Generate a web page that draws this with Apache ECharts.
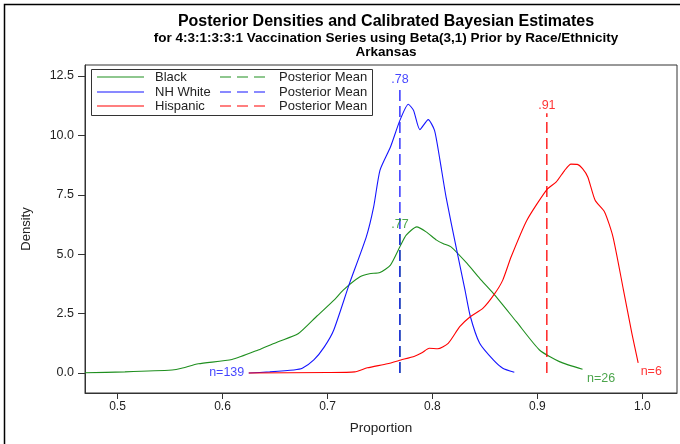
<!DOCTYPE html>
<html>
<head>
<meta charset="utf-8">
<title>Posterior Densities</title>
<script src="https://cdn.jsdelivr.net/npm/echarts@6/dist/echarts.min.js"></script>
<style>
  body { margin: 0; background: #fff; }
  #chart { width: 680px; height: 444px; }
</style>
</head>
<body>
<div id="chart"></div>
<script>
// density curves
var blackX = [0.469, 0.507, 0.552, 0.561, 0.577, 0.609, 0.634, 0.653, 0.672, 0.690, 0.707, 0.715, 0.731, 0.740, 0.750, 0.760, 0.769, 0.775, 0.785, 0.794, 0.804, 0.810, 0.818, 0.833, 0.845, 0.858, 0.880, 0.902, 0.921, 0.943]
var blackY = [0.01, 0.05, 0.13, 0.20, 0.39, 0.57, 0.97, 1.32, 1.65, 2.40, 3.10, 3.49, 4.05, 4.18, 4.23, 4.54, 5.31, 5.80, 6.15, 5.94, 5.59, 5.45, 5.30, 4.61, 3.98, 3.35, 2.16, 0.97, 0.48, 0.16]

var whiteX = [0.625, 0.645, 0.668, 0.676, 0.687, 0.697, 0.706, 0.721, 0.737, 0.744, 0.750, 0.760, 0.769, 0.777, 0.782, 0.788, 0.796, 0.802, 0.807, 0.813, 0.823, 0.831, 0.836, 0.845, 0.858, 0.867, 0.878]
var whiteY = [0.00, 0.05, 0.13, 0.20, 0.55, 1.10, 1.81, 3.77, 5.73, 6.99, 8.53, 9.51, 10.63, 11.31, 11.05, 10.24, 10.66, 10.21, 9.00, 7.40, 5.20, 3.50, 2.40, 1.25, 0.55, 0.20, 0.03]

var hispX = [0.625, 0.700, 0.726, 0.738, 0.757, 0.770, 0.783, 0.790, 0.797, 0.805, 0.815, 0.826, 0.836, 0.848, 0.859, 0.867, 0.875, 0.890, 0.909, 0.918, 0.926, 0.932, 0.938, 0.943, 0.948, 0.955, 0.964, 0.972, 0.982, 0.990, 0.996]
var hispY = [0.00, 0.02, 0.05, 0.22, 0.39, 0.55, 0.71, 0.85, 1.04, 1.02, 1.25, 1.95, 2.37, 2.72, 3.32, 3.91, 4.89, 6.43, 7.72, 8.04, 8.53, 8.79, 8.78, 8.60, 8.25, 7.27, 6.78, 5.73, 3.49, 1.67, 0.43]

// posterior means: Black, NH White, Hispanic
var groups = ['Black', 'NH White', 'Hispanic']
var colors = ['#1f8f1f', '#1414ff', '#ff0000']
var meanX = [0.769, 0.769, 0.909]
var meanTop = [5.93, 12.03, 10.93]
var meanText = ['.77', '.78', '.91']
var nText = ['n=26', 'n=139', 'n=6']

var xTicks = [0.5, 0.6, 0.7, 0.8, 0.9, 1.0]
var yTicks = [0, 2.5, 5, 7.5, 10, 12.5]

function pairs (xs, ys) {
  var out = []
  for (var i = 0; i < xs.length; i++) out.push([xs[i], ys[i]])
  return out
}

var font = 'Liberation Sans, Arial, sans-serif'
var curves = [pairs(blackX, blackY), pairs(whiteX, whiteY), pairs(hispX, hispY)]

var series = []
for (var i = 0; i < 3; i++) {
  series.push({
    name: groups[i],
    type: 'line',
    data: curves[i],
    symbol: 'none',
    smooth: 0.2,
    lineStyle: { color: colors[i], width: 1.1 },
    z: 2
  })
}
for (var j = 0; j < 3; j++) {
  series.push({
    type: 'line',
    data: [[meanX[j], 0], [meanX[j], meanTop[j]]],
    symbol: 'none',
    lineStyle: { color: colors[j], width: 1.3, type: [11, 5] },
    z: 3
  })
}

// labels for means and sample sizes
var labelPts = []
for (var k = 0; k < 3; k++) {
  labelPts.push({
    value: [meanX[k], meanTop[k]],
    label: { show: true, formatter: meanText[k], position: 'top', distance: 1, color: colors[k] }
  })
}
var ends = [curves[0][curves[0].length - 1], curves[1][0], curves[2][curves[2].length - 1]]
labelPts.push({ value: ends[0], label: { show: true, formatter: nText[0], position: 'right', distance: 4, offset: [0, 9], color: colors[0] } })
labelPts.push({ value: ends[1], label: { show: true, formatter: nText[1], position: 'left', distance: 4, color: colors[1] } })
labelPts.push({ value: ends[2], label: { show: true, formatter: nText[2], position: 'right', distance: 2, offset: [0, 9], color: colors[2] } })
series.push({
  type: 'scatter',
  data: labelPts,
  symbolSize: 1,
  itemStyle: { color: 'rgba(0,0,0,0)' },
  label: { fontFamily: font, fontSize: 12.5 },
  z: 4
})

// legend drawn by hand: two columns
var legend = [{
  type: 'rect',
  shape: { x: 91.5, y: 69.5, width: 281, height: 46 },
  style: { fill: '#fff', stroke: '#333', lineWidth: 1 },
  z: 10
}]
var rowY = [77, 92, 106]
for (var r = 0; r < 3; r++) {
  legend.push({ type: 'line', shape: { x1: 97, y1: rowY[r], x2: 144, y2: rowY[r] }, style: { stroke: colors[r], lineWidth: 1.2 }, z: 11 })
  legend.push({ type: 'text', x: 155, y: rowY[r], style: { text: groups[r], font: '13px ' + font, fill: '#222', verticalAlign: 'middle' }, z: 11 })
  legend.push({ type: 'line', shape: { x1: 220, y1: rowY[r], x2: 266, y2: rowY[r] }, style: { stroke: colors[r], lineWidth: 1.2, lineDash: [11, 6] }, z: 11 })
  legend.push({ type: 'text', x: 279, y: rowY[r], style: { text: 'Posterior Mean', font: '13px ' + font, fill: '#222', verticalAlign: 'middle' }, z: 11 })
}
legend.push({
  type: 'rect',
  shape: { x: 4.5, y: 4.5, width: 700, height: 500 },
  style: { fill: 'none', stroke: '#000', lineWidth: 1.5 },
  z: 12
})

var myChart = echarts.init(document.getElementById('chart'))
var option = {
  animation: false,
  title: [
    { text: 'Posterior Densities and Calibrated Bayesian Estimates', left: 381, top: 9, textAlign: 'center',
      textStyle: { fontFamily: font, fontSize: 16, fontWeight: 'bold', color: '#000' } },
    { text: 'for 4:3:1:3:3:1 Vaccination Series using Beta(3,1) Prior by Race/Ethnicity', left: 381, top: 26, textAlign: 'center',
      textStyle: { fontFamily: font, fontSize: 13.5, fontWeight: 'bold', color: '#000' } },
    { text: 'Arkansas', left: 381, top: 40, textAlign: 'center',
      textStyle: { fontFamily: font, fontSize: 13.5, fontWeight: 'bold', color: '#000' } }
  ],
  grid: { left: 85, right: 3, top: 65, bottom: 51, show: true, borderColor: '#333', borderWidth: 1, backgroundColor: 'transparent' },
  xAxis: {
    type: 'value',
    min: 0.469,
    max: 1.033,
    name: 'Proportion',
    nameLocation: 'middle',
    nameGap: 28,
    nameTextStyle: { fontFamily: font, fontSize: 13.5, color: '#222' },
    axisLine: { show: true, onZero: false, lineStyle: { color: '#333' } },
    axisTick: { show: true, length: 6, customValues: xTicks, lineStyle: { color: '#333' } },
    axisLabel: { customValues: xTicks, margin: 8, fontFamily: font, fontSize: 12, color: '#222',
      formatter: function (v) { return v.toFixed(1) } },
    splitLine: { show: false }
  },
  yAxis: {
    type: 'value',
    min: -0.84,
    max: 12.96,
    name: 'Density',
    nameLocation: 'middle',
    nameGap: 52,
    nameTextStyle: { fontFamily: font, fontSize: 13, color: '#222' },
    axisLine: { show: true, onZero: false, lineStyle: { color: '#333' } },
    axisTick: { show: true, length: 7, customValues: yTicks, lineStyle: { color: '#333' } },
    axisLabel: { customValues: yTicks, margin: 11, fontFamily: font, fontSize: 12.5, color: '#222',
      formatter: function (v) { return v.toFixed(1) } },
    splitLine: { show: false }
  },
  graphic: legend,
  series: series
}
myChart.setOption(option)
</script>
</body>
</html>
